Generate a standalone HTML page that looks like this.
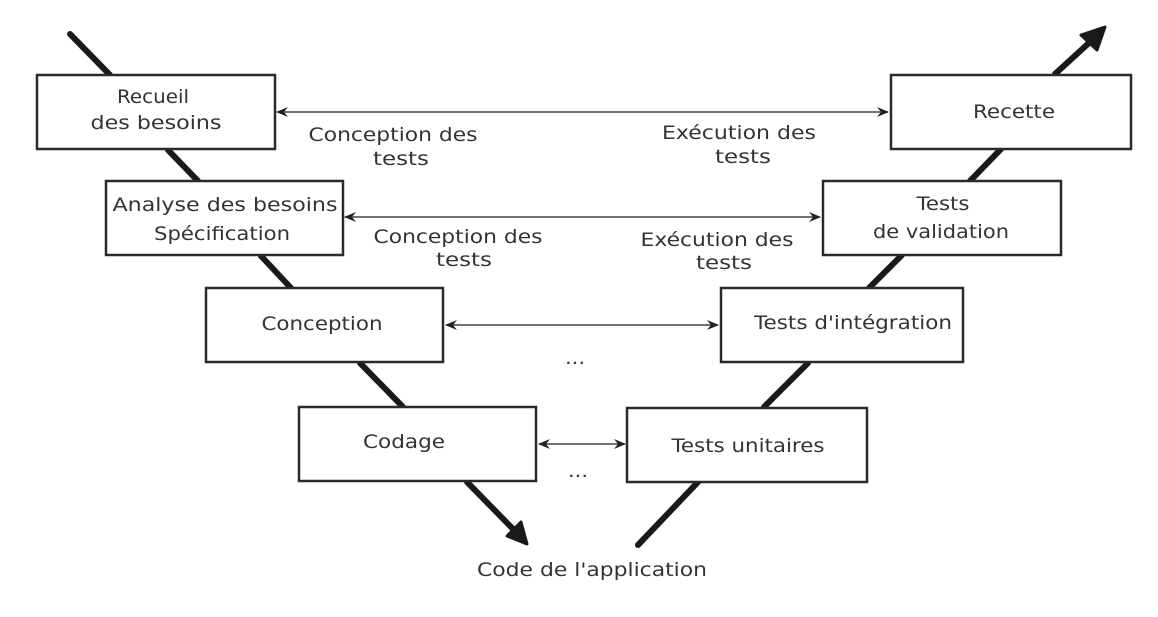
<!DOCTYPE html>
<html><head><meta charset="utf-8"><style>
html,body{margin:0;padding:0;background:#fff;}
svg{display:block;}
text{font-family:"DejaVu Sans","Liberation Sans",sans-serif;font-size:19px;fill:#333;}
</style></head><body>
<svg width="1158" height="617" viewBox="0 0 1158 617" xmlns="http://www.w3.org/2000/svg">
<defs>
<marker id="a" markerWidth="12" markerHeight="10" refX="11" refY="5" orient="auto" markerUnits="userSpaceOnUse">
<path d="M0,0 L12,5 L0,10 L4,5 Z" fill="#222"/></marker>
<marker id="b" markerWidth="12" markerHeight="10" refX="1" refY="5" orient="auto" markerUnits="userSpaceOnUse">
<path d="M12,0 L0,5 L12,10 L8,5 Z" fill="#222"/></marker>
</defs>
<g stroke="#1a1a1a" stroke-width="6" stroke-linecap="round" fill="none">
<line x1="70" y1="34" x2="110" y2="75"/>
<line x1="168" y1="150" x2="198" y2="181"/>
<line x1="261" y1="256" x2="291" y2="288"/>
<line x1="360" y1="363" x2="403" y2="407"/>
<line x1="467" y1="482" x2="515" y2="531"/>
<line x1="698" y1="482" x2="638" y2="545"/>
<line x1="764" y1="407" x2="808" y2="363"/>
<line x1="869" y1="288" x2="902" y2="255"/>
<line x1="970" y1="181" x2="1001" y2="149"/>
<line x1="1055" y1="74" x2="1090" y2="42"/>
</g>
<path d="M527,544 L507,536 L521,522 Z" fill="#1a1a1a" stroke="#1a1a1a" stroke-width="3" stroke-linejoin="round"/>
<path d="M1105,27 L1097,50 L1081,35 Z" fill="#1a1a1a" stroke="#1a1a1a" stroke-width="3" stroke-linejoin="round"/>
<g fill="#fff" stroke="#2a2a2a" stroke-width="2.5">
<rect x="37" y="75" width="238" height="74"/>
<rect x="106" y="181" width="237" height="74"/>
<rect x="206" y="288" width="237" height="74"/>
<rect x="299" y="407" width="237" height="74"/>
<rect x="891" y="75" width="240" height="74"/>
<rect x="823" y="181" width="238" height="74"/>
<rect x="721" y="288" width="242" height="74"/>
<rect x="627" y="408" width="240" height="74"/>
</g>
<g stroke="#444" stroke-width="1.5">
<line x1="277" y1="112" x2="888" y2="112" marker-start="url(#b)" marker-end="url(#a)"/>
<line x1="345" y1="217" x2="820" y2="217" marker-start="url(#b)" marker-end="url(#a)"/>
<line x1="446" y1="325" x2="718" y2="325" marker-start="url(#b)" marker-end="url(#a)"/>
<line x1="539" y1="444" x2="625" y2="444" marker-start="url(#b)" marker-end="url(#a)"/>
</g>
<g text-anchor="middle" dominant-baseline="central">
<text x="153" y="97" textLength="72" lengthAdjust="spacingAndGlyphs">Recueil</text>
<text x="156" y="123" textLength="131" lengthAdjust="spacingAndGlyphs">des besoins</text>
<text x="225" y="205" textLength="225" lengthAdjust="spacingAndGlyphs">Analyse des besoins</text>
<text x="222" y="234" textLength="136" lengthAdjust="spacingAndGlyphs">Spécification</text>
<text x="322" y="324" textLength="121" lengthAdjust="spacingAndGlyphs">Conception</text>
<text x="404" y="442" textLength="82" lengthAdjust="spacingAndGlyphs">Codage</text>
<text x="1014" y="112" textLength="82" lengthAdjust="spacingAndGlyphs">Recette</text>
<text x="943" y="204" textLength="53" lengthAdjust="spacingAndGlyphs">Tests</text>
<text x="941" y="232" textLength="136" lengthAdjust="spacingAndGlyphs">de validation</text>
<text x="853" y="323" textLength="198" lengthAdjust="spacingAndGlyphs">Tests d'intégration</text>
<text x="748" y="446" textLength="153" lengthAdjust="spacingAndGlyphs">Tests unitaires</text>
<text x="393" y="135" textLength="169" lengthAdjust="spacingAndGlyphs">Conception des</text>
<text x="401" y="159" textLength="56" lengthAdjust="spacingAndGlyphs">tests</text>
<text x="739" y="133" textLength="154" lengthAdjust="spacingAndGlyphs">Exécution des</text>
<text x="743" y="157" textLength="56" lengthAdjust="spacingAndGlyphs">tests</text>
<text x="458" y="237" textLength="169" lengthAdjust="spacingAndGlyphs">Conception des</text>
<text x="464" y="260" textLength="56" lengthAdjust="spacingAndGlyphs">tests</text>
<text x="717" y="240" textLength="153" lengthAdjust="spacingAndGlyphs">Exécution des</text>
<text x="724" y="263" textLength="56" lengthAdjust="spacingAndGlyphs">tests</text>
<text x="575" y="358" textLength="20" lengthAdjust="spacingAndGlyphs">...</text>
<text x="578" y="471" textLength="20" lengthAdjust="spacingAndGlyphs">...</text>
<text x="592" y="570" textLength="230" lengthAdjust="spacingAndGlyphs">Code de l'application</text>
</g>
</svg>
</body></html>
